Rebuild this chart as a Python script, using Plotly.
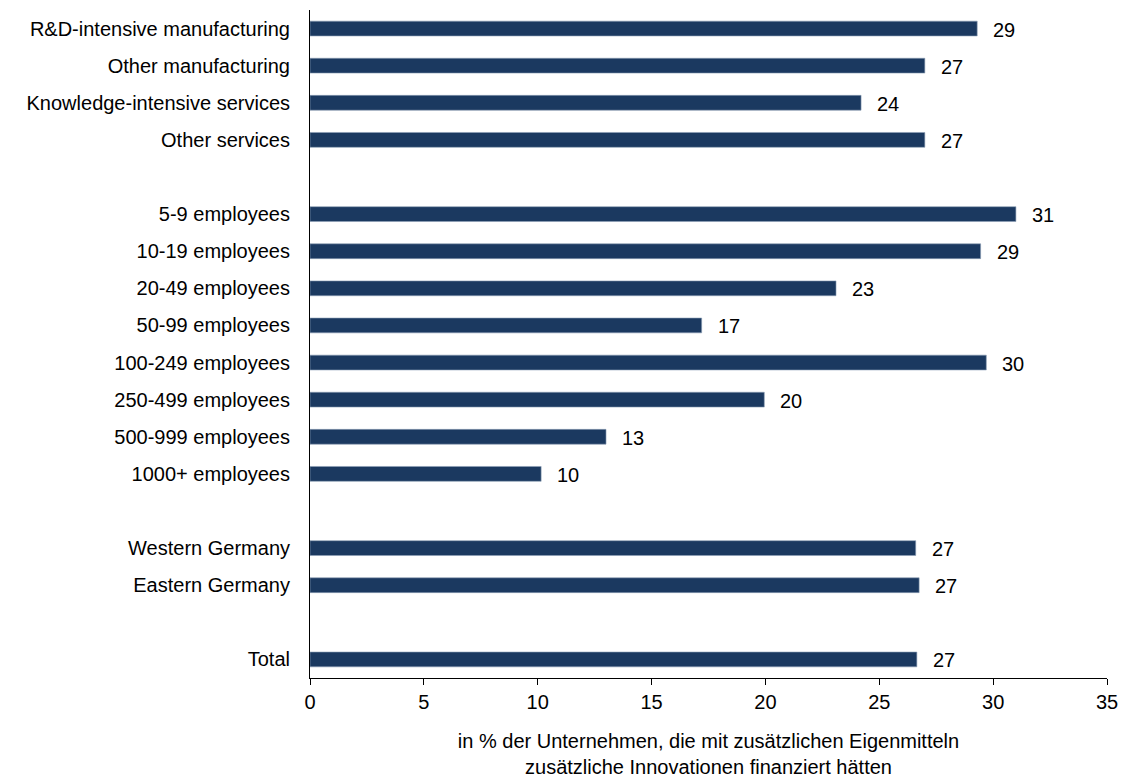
import plotly.graph_objects as go

categories = [
    "R&D-intensive manufacturing", "Other manufacturing",
    "Knowledge-intensive services", "Other services", " ",
    "5-9 employees", "10-19 employees", "20-49 employees", "50-99 employees",
    "100-249 employees", "250-499 employees", "500-999 employees",
    "1000+ employees", "  ",
    "Western Germany", "Eastern Germany", "   ",
    "Total",
]
values = [
    29.3, 27.0, 24.2, 27.0, None,
    31.0, 29.45, 23.1, 17.2, 29.7, 19.95, 13.0, 10.15, None,
    26.6, 26.75, None,
    26.65,
]
labels = [None if v is None else f"{round(v):d}" for v in values]

x_ticks = [0, 5, 10, 15, 20, 25, 30, 35]
x_title = "in % der Unternehmen, die mit zusätzlichen Eigenmitteln<br>zusätzliche Innovationen finanziert hätten"

FONT = "Liberation Sans, Arial, sans-serif"
BAR = "#1b3960"

fig = go.Figure()
fig.add_trace(go.Bar(
    x=values, y=categories, orientation="h",
    marker=dict(color=BAR, line=dict(color="#8d9fb5", width=0.6)),
    width=0.4, hoverinfo="x+y",
))

for c, v, t in zip(categories, values, labels):
    if v is None:
        continue
    fig.add_annotation(x=v, y=c, text=t, showarrow=False, xanchor="left",
                       xshift=14, yshift=-1,
                       font=dict(family=FONT, size=20, color="#000000"))

fig.update_layout(
    width=1123, height=778,
    margin=dict(l=310, r=16, t=10, b=100, autoexpand=False),
    paper_bgcolor="white", plot_bgcolor="white",
    showlegend=False,
    font=dict(family=FONT, size=20, color="#000000"),
    bargap=0.6,
)
fig.update_yaxes(
    type="category", categoryorder="array", categoryarray=categories,
    autorange="reversed", showline=True, linecolor="#000000", linewidth=1,
    ticks="", showgrid=False, zeroline=False, ticklabelstandoff=15,
    tickfont=dict(family=FONT, size=20, color="#000000"),
)
fig.update_xaxes(
    range=[0, 35], tickvals=x_ticks, ticktext=[str(t) for t in x_ticks],
    showline=True, linecolor="#000000", linewidth=1,
    ticks="outside", ticklen=6, tickwidth=1, tickcolor="#000000",
    showgrid=False, zeroline=False,
    tickfont=dict(family=FONT, size=20, color="#000000"),
    title=dict(text=x_title, standoff=26,
               font=dict(family=FONT, size=20, color="#000000")),
)

fig.write_html("out.html", config={"displayModeBar": False},
               post_script="document.body.style.margin='0';document.body.style.overflow='hidden';")
